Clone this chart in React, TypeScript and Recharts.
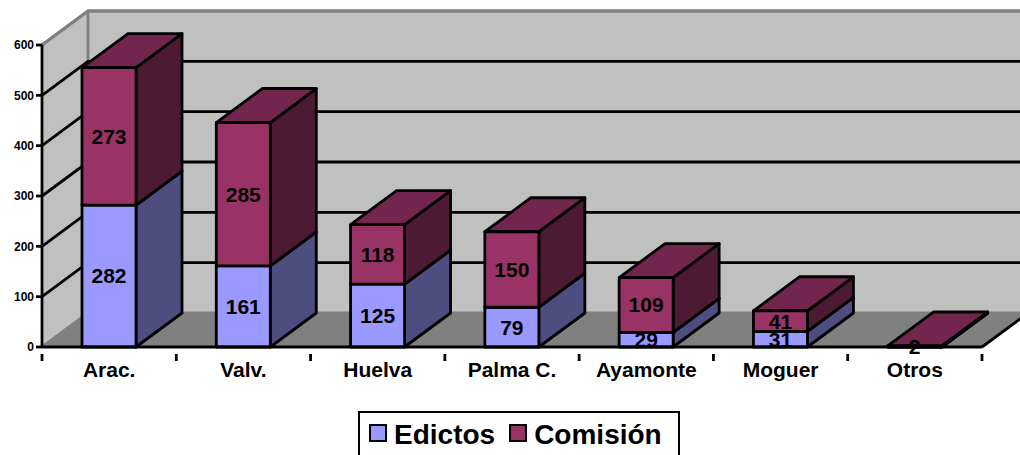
import { BarChart, Bar, XAxis, YAxis, CartesianGrid, LabelList, Legend, usePlotArea } from 'recharts'

const categories = ['Arac.', 'Valv.', 'Huelva', 'Palma C.', 'Ayamonte', 'Moguer', 'Otros']
const edictos = [282, 161, 125, 79, 29, 31, 0]
const comision = [273, 285, 118, 150, 109, 41, 2]
const yTicks = [0, 100, 200, 300, 400, 500, 600]

const data = categories.map((name, i) => ({ name, edictos: edictos[i], comision: comision[i] }))

const DX = 46 // 3d depth
const DY = 34
const LINE = 2.8
const FONT = '"Liberation Sans", Arial, sans-serif'
const BAND = 940 / categories.length

const EDICTOS = { front: '#9999ff', top: '#7373bf', side: '#4d4d80' }
const COMISION = { front: '#993366', top: '#73264d', side: '#4d1a33' }

function Walls() {
  const area = usePlotArea()
  if (!area) return null
  const { x, y, width, height } = area
  const b = y + height
  const r = x + width
  return (
    <g>
      <polygon points={`${x},${y} ${x + DX},${y - DY} ${x + DX},${b - DY} ${x},${b}`} fill="#c0c0c0" />
      <rect x={x + DX} y={y - DY} width={width} height={height} fill="#c0c0c0" />
      <polygon points={`${x},${b} ${x + DX},${b - DY} ${r + DX},${b - DY} ${r},${b}`} fill="#808080" />
      <path d={`M${x},${y} L${x + DX},${y - DY} L${r + DX},${y - DY} M${x + DX},${y - DY} L${x + DX},${b - DY}`} fill="none" stroke="#808080" strokeWidth={LINE} />
      <line x1={r} y1={b} x2={r + DX} y2={b - DY} stroke="#000" strokeWidth={LINE} />
    </g>
  )
}

// the grid runs along the left wall and then along the back wall
function GridLine(props: any) {
  const { x1, y1, x2, y2, index } = props
  const last = yTicks.length - 1
  const stroke = index === 0 || index === last ? '#808080' : '#000'
  return (
    <g>
      {index === 0 && <Walls />}
      <path
        d={`M${x1},${y1} L${x1 + DX},${y2 - DY} L${x2 + DX},${y2 - DY}`}
        fill="none"
        stroke={stroke}
        strokeWidth={LINE}
      />
    </g>
  )
}

function Box3D(props: any) {
  const { x, y, width, height, colors } = props
  const r = x + width
  return (
    <g stroke="#000" strokeWidth={LINE} strokeLinejoin="round">
      <polygon points={`${r},${y} ${r + DX},${y - DY} ${r + DX},${y + height - DY} ${r},${y + height}`} fill={colors.side} />
      <polygon points={`${x},${y} ${x + DX},${y - DY} ${r + DX},${y - DY} ${r},${y}`} fill={colors.top} />
      <rect x={x} y={y} width={width} height={height} fill={colors.front} />
    </g>
  )
}

function CategoryTick(props: any) {
  const { x, y, payload, index } = props
  const left = x - BAND / 2
  return (
    <g>
      <line x1={left} y1={y - 1} x2={left} y2={y + 6} stroke="#000" strokeWidth={LINE} />
      {index === categories.length - 1 && (
        <line x1={left + BAND} y1={y - 1} x2={left + BAND} y2={y + 6} stroke="#000" strokeWidth={LINE} />
      )}
      <text x={x} y={y + 22} textAnchor="middle" fontFamily={FONT} fontWeight="bold" fontSize={21} fill="#000">
        {payload.value}
      </text>
    </g>
  )
}

function LegendBox({ payload }: any) {
  return (
    <div style={{ display: 'flex', alignItems: 'center', height: 42 }}>
      {(payload || []).map((p: any, i: number) => (
        <div key={p.value} style={{ display: 'flex', alignItems: 'center', marginLeft: i === 0 ? 9 : 14 }}>
          <span style={{ width: 14, height: 14, background: p.color, border: '2px solid #000', marginRight: 7, position: 'relative', top: -1 }} />
          <span style={{ fontFamily: FONT, fontWeight: 'bold', fontSize: 28, color: '#000', lineHeight: '32px', position: 'relative', top: 1 }}>{p.value}</span>
        </div>
      ))}
    </div>
  )
}

const labelStyle = { fontFamily: FONT, fontWeight: 'bold', fontSize: 21, fill: '#000' }

export default function App() {
  return (
    <div style={{ position: 'absolute', left: 0, top: 0, width: 1020, height: 455, overflow: 'hidden' }}>
      <BarChart
        width={1020}
        height={455}
        data={data}
        barSize={54}
        margin={{ top: 45, right: 38, bottom: 28, left: 0 }}
      >
        <CartesianGrid vertical={false} horizontal={<GridLine />} />
        <XAxis
          dataKey="name"
          height={30}
          interval={0}
          axisLine={{ stroke: '#000', strokeWidth: LINE }}
          tickLine={false}
          tick={<CategoryTick />}
        />
        <YAxis
          width={42}
          domain={[0, 600]}
          ticks={yTicks}
          interval={0}
          axisLine={{ stroke: '#000', strokeWidth: LINE }}
          tickLine={{ stroke: '#000', strokeWidth: LINE }}
          tickSize={6}
          tickMargin={2}
          tick={{ fontFamily: FONT, fontWeight: 'bold', fontSize: 12, fill: '#000' }}
        />
        <Legend
          verticalAlign="bottom"
          itemSorter={null as any}
          content={<LegendBox />}
          wrapperStyle={{ position: 'absolute', left: 358, top: 411, bottom: 'auto', width: 322, height: 50, border: '2px solid #000', boxSizing: 'border-box', background: '#fff' }}
        />
        <Bar
          dataKey="edictos"
          name="Edictos"
          stackId="a"
          fill={EDICTOS.front}
          isAnimationActive={false}
          shape={<Box3D colors={EDICTOS} />}
        >
          <LabelList dataKey="edictos" position="center" formatter={(v: any) => (v ? v : '')} style={labelStyle} />
        </Bar>
        <Bar
          dataKey="comision"
          name="Comisión"
          stackId="a"
          fill={COMISION.front}
          isAnimationActive={false}
          shape={<Box3D colors={COMISION} />}
        >
          <LabelList dataKey="comision" position="center" style={labelStyle} />
        </Bar>
      </BarChart>
    </div>
  )
}
